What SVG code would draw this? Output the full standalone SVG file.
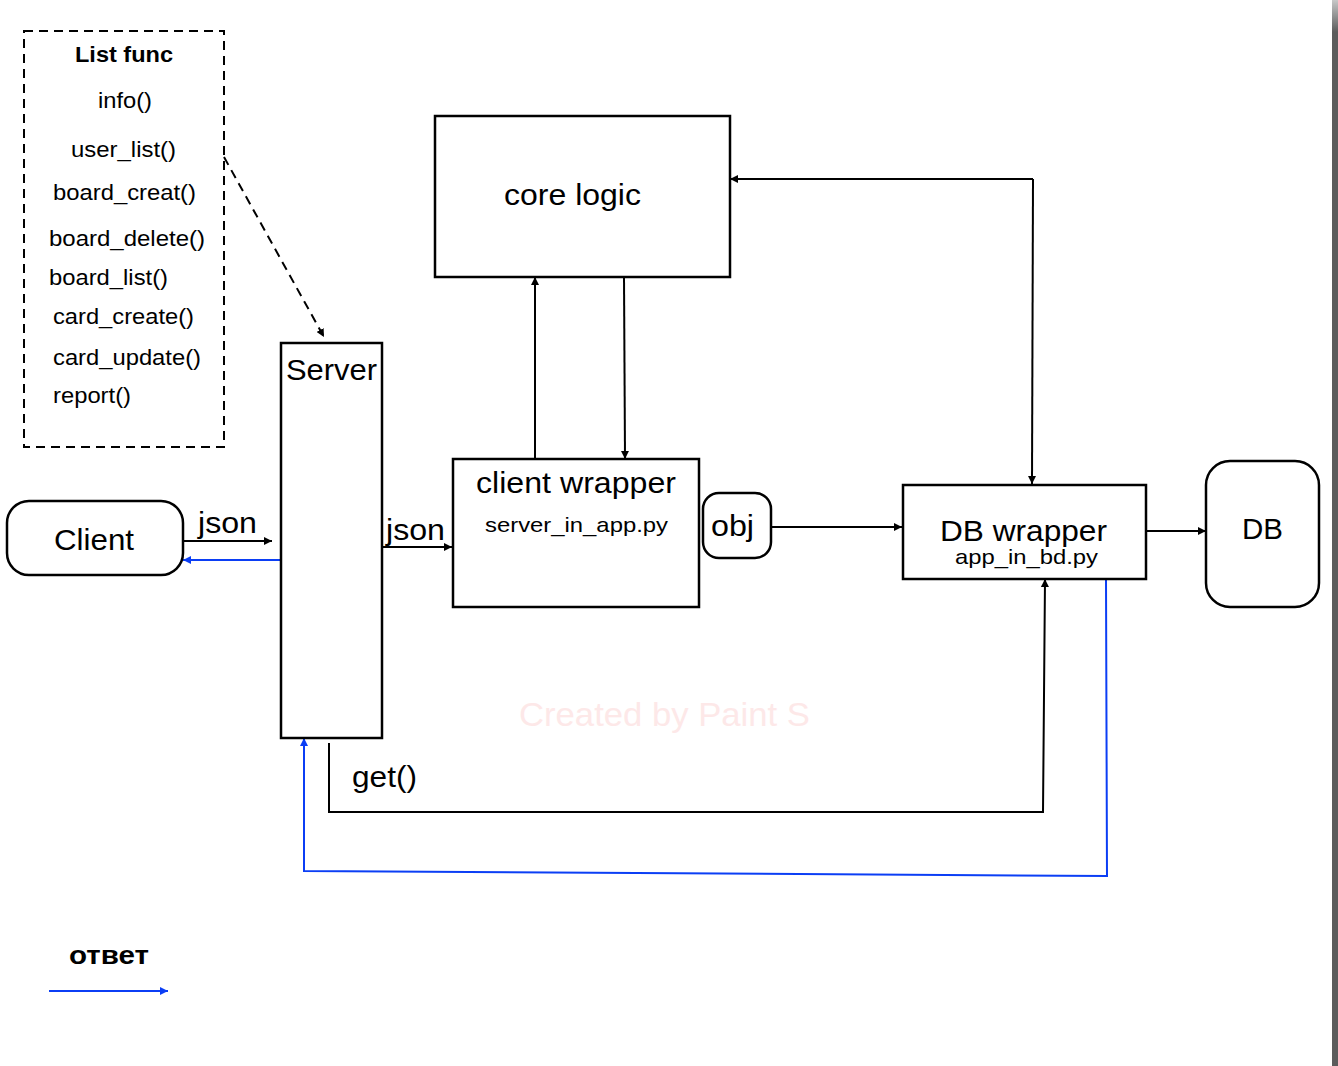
<svg xmlns="http://www.w3.org/2000/svg" width="1338" height="1066" viewBox="0 0 1338 1066">
<defs>
<style>
text{font-family:"Liberation Sans",Arial,sans-serif;fill:#000}
.box{fill:#fff;stroke:#000;stroke-width:2.5}
.ln{fill:none;stroke:#000;stroke-width:2}
.bl{fill:none;stroke:#0b3ef5;stroke-width:2}
.f22{font-size:22px}
.f30{font-size:30px}
</style>
<marker id="ah" viewBox="0 0 10 10" refX="10" refY="5" markerWidth="8" markerHeight="8" markerUnits="userSpaceOnUse" orient="auto"><path d="M0,0 L10,5 L0,10 z" fill="#000"/></marker>
<marker id="ahb" viewBox="0 0 10 10" refX="10" refY="5" markerWidth="8" markerHeight="8" markerUnits="userSpaceOnUse" orient="auto"><path d="M0,0 L10,5 L0,10 z" fill="#0b3ef5"/></marker>
<linearGradient id="edge" x1="0" y1="0" x2="0" y2="1"><stop offset="0" stop-color="#c8c8c8"/><stop offset="0.03" stop-color="#5c5c5c"/><stop offset="1" stop-color="#5c5c5c"/></linearGradient>
</defs>
<rect width="1338" height="1066" fill="#fff"/>
<rect x="1332" y="0" width="6" height="1066" fill="url(#edge)"/>
<text x="519" y="726" font-size="34" textLength="291" lengthAdjust="spacingAndGlyphs" style="fill:#fde8e8">Created by Paint S</text>

<g id="connectors">
<line class="ln" x1="224" y1="157" x2="324" y2="337" stroke-dasharray="9,6" marker-end="url(#ah)"/>
<line class="ln" x1="183" y1="541" x2="272" y2="541" marker-end="url(#ah)"/>
<line class="bl" x1="281" y1="560" x2="183" y2="560" marker-end="url(#ahb)"/>
<line class="ln" x1="382" y1="547" x2="452" y2="547" marker-end="url(#ah)"/>
<line class="ln" x1="535" y1="459" x2="535" y2="277" marker-end="url(#ah)"/>
<line class="ln" x1="624" y1="277" x2="625" y2="459" marker-end="url(#ah)"/>
<polyline class="ln" points="1033,179 730,179" marker-end="url(#ah)"/>
<polyline class="ln" points="1033,179 1032,484" marker-end="url(#ah)"/>
<line class="ln" x1="771" y1="527" x2="902" y2="527" marker-end="url(#ah)"/>
<line class="ln" x1="1143" y1="531" x2="1206" y2="531" stroke-width="2.5" marker-end="url(#ah)"/>
<polyline class="ln" points="329,743 329,812 1043,812 1045,579" marker-end="url(#ah)"/>
<polyline class="bl" points="1106,579 1107,876 304,871 304,738" marker-end="url(#ahb)"/>
</g>

<g id="listfunc">
<rect x="24" y="31" width="200" height="416" fill="none" stroke="#000" stroke-width="2" stroke-dasharray="9,6"/>
<text x="75" y="62" font-size="22" font-weight="bold" textLength="98" lengthAdjust="spacingAndGlyphs">List func</text>
<text class="f22" x="98" y="108" textLength="54" lengthAdjust="spacingAndGlyphs">info()</text>
<text class="f22" x="71" y="157" textLength="105" lengthAdjust="spacingAndGlyphs">user_list()</text>
<text class="f22" x="53" y="200" textLength="143" lengthAdjust="spacingAndGlyphs">board_creat()</text>
<text class="f22" x="49" y="246" textLength="156" lengthAdjust="spacingAndGlyphs">board_delete()</text>
<text class="f22" x="49" y="285" textLength="119" lengthAdjust="spacingAndGlyphs">board_list()</text>
<text class="f22" x="53" y="324" textLength="141" lengthAdjust="spacingAndGlyphs">card_create()</text>
<text class="f22" x="53" y="365" textLength="148" lengthAdjust="spacingAndGlyphs">card_update()</text>
<text class="f22" x="53" y="403" textLength="78" lengthAdjust="spacingAndGlyphs">report()</text>
</g>

<g id="server">
<rect class="box" x="281" y="343" width="101" height="395"/>
<text class="f30" x="286" y="380" textLength="91" lengthAdjust="spacingAndGlyphs">Server</text>
</g>

<g id="client">
<rect class="box" x="7" y="501" width="176" height="74" rx="22"/>
<text class="f30" x="54" y="550" textLength="80" lengthAdjust="spacingAndGlyphs">Client</text>
</g>

<g id="labels">
<text class="f30" x="198" y="533" textLength="59" lengthAdjust="spacingAndGlyphs">json</text>
<text class="f30" x="386" y="540" textLength="59" lengthAdjust="spacingAndGlyphs">json</text>
<text class="f30" x="352" y="787" textLength="65" lengthAdjust="spacingAndGlyphs">get()</text>
</g>

<g id="corelogic">
<rect class="box" x="435" y="116" width="295" height="161"/>
<text x="504" y="205" font-size="29" textLength="137" lengthAdjust="spacingAndGlyphs">core logic</text>
</g>

<g id="clientwrapper">
<rect class="box" x="453" y="459" width="246" height="148"/>
<text x="476" y="493" font-size="29" textLength="200" lengthAdjust="spacingAndGlyphs">client wrapper</text>
<text x="485" y="532" font-size="21" textLength="183" lengthAdjust="spacingAndGlyphs">server_in_app.py</text>
</g>

<g id="obj">
<rect class="box" x="703" y="493" width="68" height="65" rx="16"/>
<text class="f30" x="711" y="536" textLength="43" lengthAdjust="spacingAndGlyphs">obj</text>
</g>

<g id="dbwrapper">
<rect class="box" x="903" y="485" width="243" height="94"/>
<text class="f30" x="940" y="541" textLength="167" lengthAdjust="spacingAndGlyphs">DB wrapper</text>
<text x="955" y="564" font-size="21" textLength="143" lengthAdjust="spacingAndGlyphs">app_in_bd.py</text>
</g>

<g id="db">
<rect class="box" x="1206" y="461" width="113" height="146" rx="24"/>
<text class="f30" x="1242" y="539" textLength="41" lengthAdjust="spacingAndGlyphs">DB</text>
</g>

<g id="legend">
<text x="69" y="964" font-size="26" font-weight="bold" textLength="80" lengthAdjust="spacingAndGlyphs">ответ</text>
<line class="bl" x1="49" y1="991" x2="168" y2="991" marker-end="url(#ahb)"/>
</g>
</svg>
